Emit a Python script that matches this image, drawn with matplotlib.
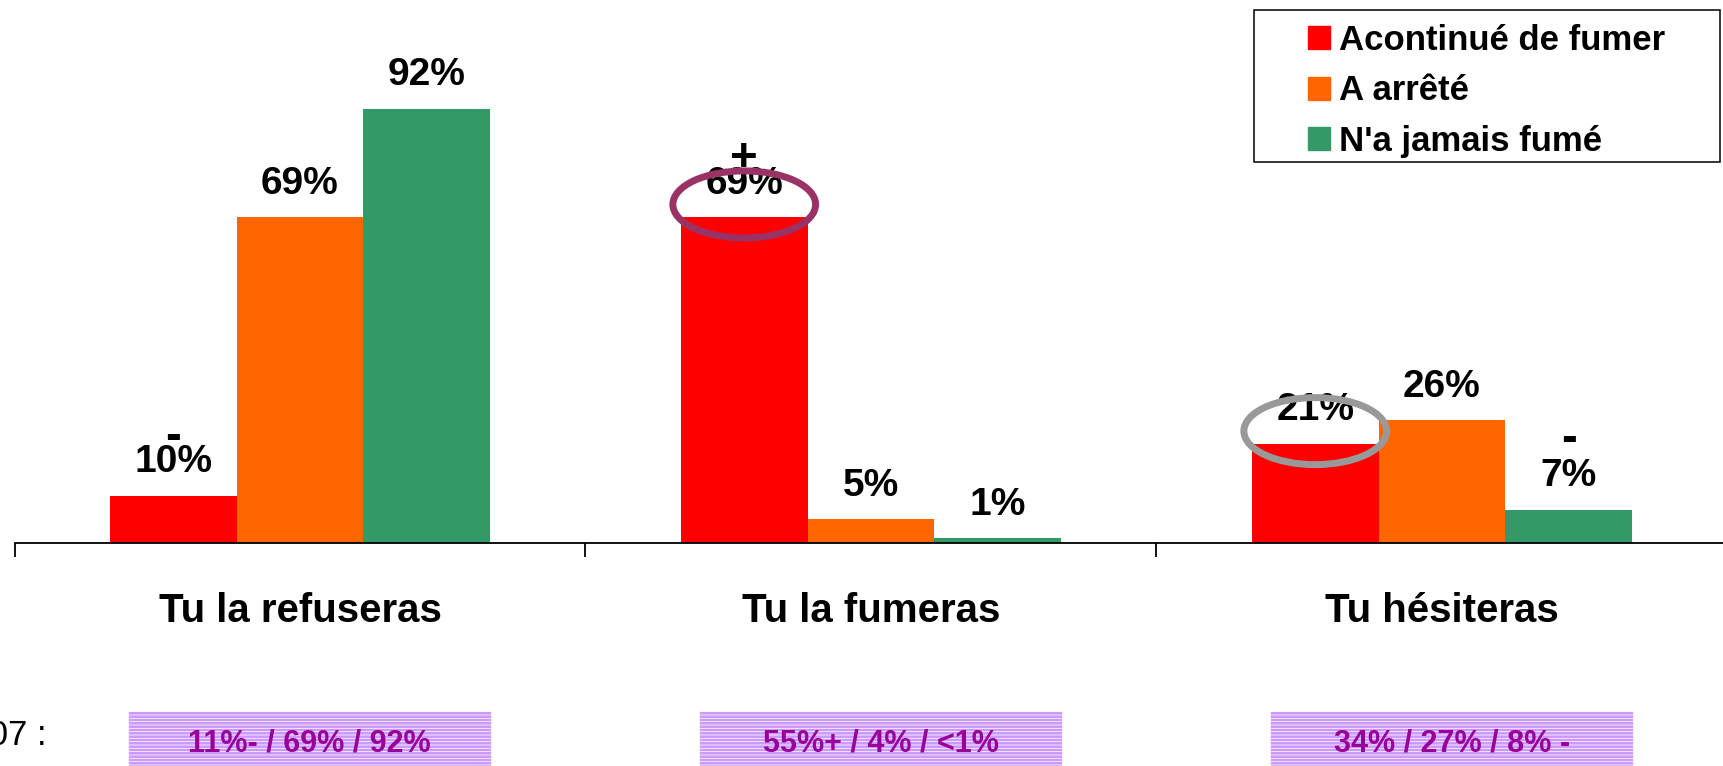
import numpy as np
import matplotlib
matplotlib.use("Agg")
import matplotlib.pyplot as plt
import matplotlib.transforms as mtrans
from matplotlib.patches import Ellipse, Rectangle, Patch

# ── data ─────────────────────────────────────────────────────────────────
categories = ["Tu la refuseras", "Tu la fumeras", "Tu hésiteras"]
series     = ["Acontinué de fumer", "A arrêté", "N'a jamais fumé"]
continued  = [10, 69, 21]
stopped    = [69, 5, 26]
never      = [92, 1, 7]
signs_continued = ["-", "+", ""]
signs_stopped   = ["", "", ""]
signs_never     = ["", "", "-"]
circled         = [1, 2]                 # "continued" bars that get a ring
circle_colors   = ["#993366", "#999999"]
ref_label  = "2007 :"
ref_values = ["11%- / 69% / 92%", "55%+ / 4% / <1%", "34% / 27% / 8% -"]

colors = ["#FF0000", "#FF6600", "#339966"]
sign_offsets = [42, 42, 51]   # points above bar top, per series

plt.rcParams["font.family"] = ["Liberation Sans", "DejaVu Sans"]
plt.rcParams["hatch.linewidth"] = 0.5

W, H = 1724, 766
fig = plt.figure(figsize=(W / 100, H / 100), dpi=100)
ax = fig.add_axes([14.5 / W, 223 / H, 1713 / W, 543 / H])
ax.patch.set_visible(False)

x = np.arange(len(categories))
bw = 0.222

for i, (vals, sg) in enumerate(zip([continued, stopped, never],
                                   [signs_continued, signs_stopped, signs_never])):
    pos = x + (i - 1) * bw
    ax.bar(pos, vals, bw, color=colors[i], zorder=2)
    for xp, v, s in zip(pos, vals, sg):
        ax.annotate(f"{v}%", (xp, v), xytext=(0, 17), textcoords="offset points",
                    ha="center", va="baseline", fontsize=28, fontweight="bold", zorder=4)
        if s:
            ax.annotate(s, (xp, v), xytext=(0, sign_offsets[i]), textcoords="offset points",
                        ha="center", va="center", fontsize=34, fontweight="bold", zorder=4)

# rings around the highlighted bars
for idx, col in zip(circled, circle_colors):
    ax.add_patch(Ellipse((x[idx] - bw, continued[idx] + 2.7), 0.25, 14.2,
                         fill=False, ec=col, lw=5, zorder=6))

ax.set_xlim(-0.5, 2.5)
ax.set_ylim(0, 115)
for side in ["left", "right", "top"]:
    ax.spines[side].set_visible(False)
ax.spines["bottom"].set_linewidth(1.3)
ax.set_yticks([])
ax.set_xticks(x, categories)
ax.set_xticks(np.arange(-0.5, 3, 1), minor=True)
ax.tick_params(axis="x", which="major", length=0, pad=35, labelsize=29)
ax.tick_params(axis="x", which="minor", length=10, width=1.3, direction="out")
for t in ax.get_xticklabels():
    t.set_fontweight("bold")

# legend with its own frame
handles = [Patch(color=c) for c in colors]
fig.legend(handles, series, loc="upper left", bbox_to_anchor=(1308 / W, (H - 24) / H),
           frameon=False, borderpad=0, borderaxespad=0, handlelength=0.64,
           handleheight=0.64, handletextpad=0.26, labelspacing=0.5,
           prop=dict(weight="bold", size=25))
fig.add_artist(Rectangle((1254 / W, (H - 162) / H), 466 / W, 152 / H,
                         transform=fig.transFigure, fill=False, ec="black", lw=1.1))

# 2007 reference figures below each group
trans = mtrans.blended_transform_factory(ax.transData, fig.transFigure)
fig.text(47 / W, 21 / H, ref_label, ha="right", va="baseline", fontsize=25)
for i, txt in enumerate(ref_values):
    cx = x[i] + 0.017
    fig.add_artist(Rectangle((cx - 0.3175, -0.01), 0.635, 55 / H + 0.01, transform=trans,
                             fc="#CC99FF", ec="white", lw=0.5, hatch="-----"))
    fig.text(cx, 14 / H, txt, transform=trans, ha="center", va="baseline",
             fontsize=22, fontweight="bold", color="#990099")

fig.savefig("out.png", dpi=100)
